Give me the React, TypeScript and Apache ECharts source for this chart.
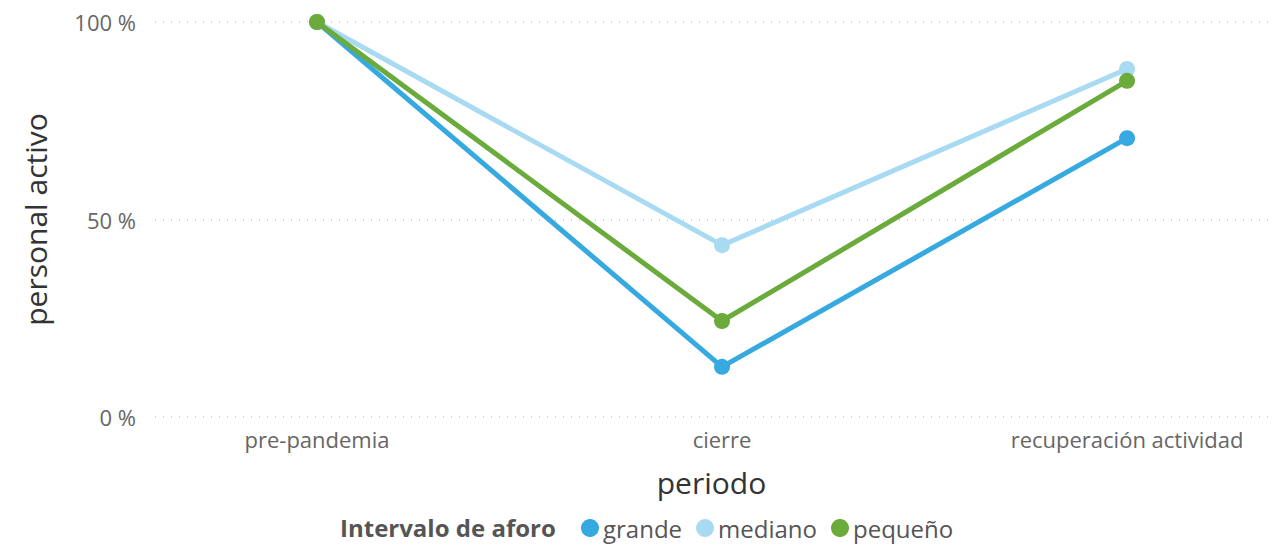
import React, { useEffect, useRef } from "react";
import * as echarts from "echarts";

const categories = ["pre-pandemia", "cierre", "recuperación actividad"];
const seriesNames = ["grande", "mediano", "pequeño"];
const grande = [100, 12.7, 70.6];
const mediano = [100, 43.5, 88.1];
const pequeno = [100, 24.3, 85.1];
const yTicks = [0, 50, 100];
const colors = ["#36A9E1", "#A8DBF2", "#6AAB3C"];

const FONT = "'Segoe UI', 'Open Sans', 'Noto Sans', sans-serif";

export default function App() {
  const ref = useRef<HTMLDivElement>(null);
  useEffect(() => {
    document.body.style.margin = "0";
    if (!ref.current) return;
    const chart = echarts.init(ref.current, undefined, { renderer: "svg" });
    const values = [grande, mediano, pequeno];
    chart.setOption({
      animation: false,
      textStyle: { fontFamily: FONT },
      grid: { left: 155, right: 8, top: 22, bottom: 129, containLabel: false },
      xAxis: {
        type: "value",
        min: -0.4,
        max: 2.348,
        axisLine: { show: false },
        axisTick: { show: false },
        splitLine: { show: false },
        axisLabel: {
          color: "#666",
          fontSize: 22,
          margin: 11,
          formatter: (v: number) =>
            Math.abs(v - Math.round(v)) < 1e-6 && categories[Math.round(v)] ? categories[Math.round(v)] : "",
        },
        name: "periodo",
        nameLocation: "middle",
        nameGap: 50,
        nameTextStyle: { color: "#333", fontSize: 30, fontFamily: FONT },
      },
      yAxis: {
        type: "value",
        min: yTicks[0],
        max: yTicks[yTicks.length - 1],
        interval: 50,
        axisLine: { show: false },
        axisTick: { show: false },
        axisLabel: {
          color: "#666",
          fontSize: 22,
          margin: 19,
          formatter: (v: number) => `${v} %`,
        },
        splitLine: { lineStyle: { color: "#c8c8c8", type: [1, 7], width: 1.5 } },
        name: "personal activo",
        nameLocation: "middle",
        nameGap: 105,
        nameTextStyle: { color: "#333", fontSize: 30, fontFamily: FONT },
      },
      legend: {
        left: 581,
        top: 516,
        icon: "circle",
        itemWidth: 18,
        itemHeight: 18,
        itemGap: 14,
        padding: 0,
        textStyle: {
          color: "#555",
          fontSize: 24,
          fontFamily: FONT,
          padding: [0, 0, 0, -1],
        },
        data: seriesNames,
      },
      graphic: [
        {
          type: "text",
          x: 340,
          y: 527,
          style: {
            text: "Intervalo de aforo",
            fill: "#555",
            font: `bold 24px ${FONT}`,
            verticalAlign: "middle",
          },
        },
      ],
      series: seriesNames.map((name, i) => ({
        name,
        type: "line",
        data: values[i].map((v, j) => [j, v]),
        color: colors[i],
        lineStyle: { width: 5, color: colors[i] },
        symbol: "circle",
        symbolSize: 16,
        itemStyle: { color: colors[i] },
        z: 2 + i,
      })),
    });
    return () => chart.dispose();
  }, []);
  return <div ref={ref} style={{ width: 1276, height: 546 }} />;
}
